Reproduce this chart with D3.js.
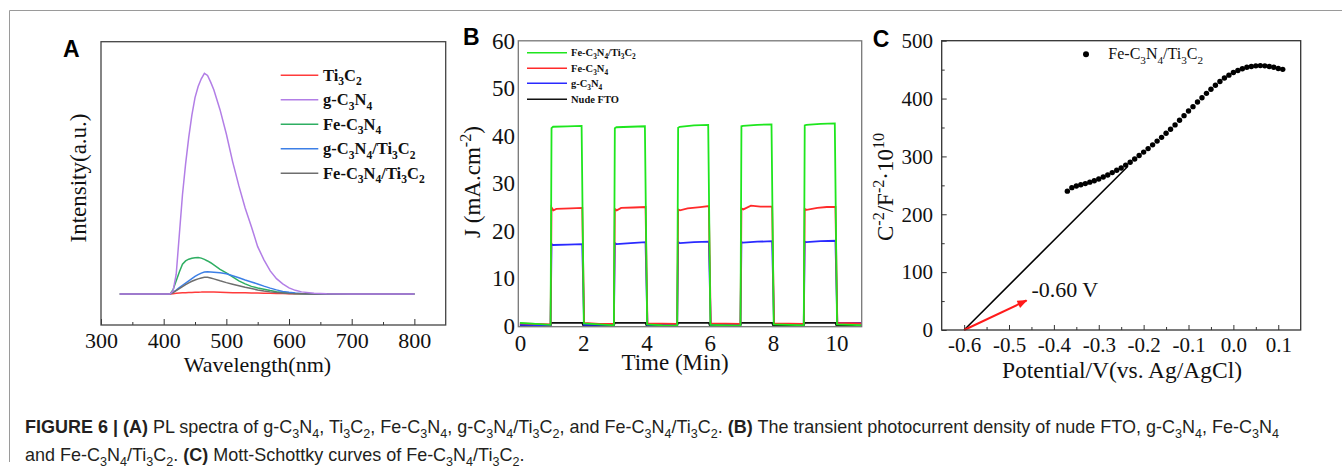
<!DOCTYPE html>
<html>
<head>
<meta charset="utf-8">
<script src="https://cdn.jsdelivr.net/npm/d3@7"></script>
<style>
  body { margin: 0; background: #fff; }
  svg { display: block; }
  text { white-space: pre; }
</style>
</head>
<body>
<svg width="1342" height="469"></svg>
<script>
// ---- Panel A: espectros PL (intensidad relativa, pico de g-C3N4 = 100)
const wavelength = [330, 400, 410, 415, 420, 425, 430, 435, 440, 445, 450, 455, 460, 465, 470, 475, 480, 490, 500, 510, 520, 530, 540, 550, 560, 570, 580, 590, 600, 610, 620, 640, 660, 700, 750, 800];
const plTi3C2   = [0, 0, 0, 0.2, 0.4, 0.5, 0.6, 0.65, 0.7, 0.75, 0.8, 0.85, 0.9, 1.0, 1.0, 0.95, 0.9, 0.8, 0.7, 0.65, 0.6, 0.55, 0.5, 0.45, 0.4, 0.35, 0.3, 0.25, 0.2, 0.15, 0.1, 0.05, 0, 0, 0, 0];
const plGC3N4   = [0, 0, 0, 1.5, 9, 27, 45, 59, 71, 81, 89, 94, 97.5, 100, 99, 96, 92.5, 83.4, 72.5, 60, 49, 39, 30.5, 21.5, 15.5, 10.5, 7, 4.6, 2.8, 1.7, 1.0, 0.4, 0.15, 0, 0, 0];
const plFeC3N4  = [0, 0, 0, 2, 6, 10, 13.5, 15, 15.8, 16.2, 16.5, 16.6, 16.3, 15.7, 15, 14.2, 13.2, 11.2, 9.6, 7.8, 6, 4.6, 3.5, 2.8, 2.2, 1.6, 1.1, 0.7, 0.5, 0.3, 0.2, 0.1, 0, 0, 0, 0];
const plGTi     = [0, 0, 0, 0.8, 1.8, 2.9, 4, 5, 6, 7, 8, 8.8, 9.5, 10, 10.1, 10, 9.9, 9.7, 9.2, 8.3, 7.4, 6.4, 5.5, 4.6, 3.6, 2.7, 1.9, 1.2, 0.8, 0.5, 0.3, 0.1, 0, 0, 0, 0];
const plFeTi    = [0, 0, 0, 0.7, 1.6, 2.5, 3.4, 4.3, 5.1, 5.8, 6.4, 6.9, 7.3, 7.6, 7.6, 7.3, 6.9, 6.0, 5.2, 4.5, 3.8, 3.1, 2.5, 1.9, 1.4, 1.0, 0.7, 0.5, 0.3, 0.2, 0.1, 0, 0, 0, 0, 0];
const plNames   = ['Ti_3C_2', 'g-C_3N_4', 'Fe-C_3N_4', 'g-C_3N_4/Ti_3C_2', 'Fe-C_3N_4/Ti_3C_2'];
const plColors  = ['#ff3b3b', '#b27ee6', '#2eae62', '#3c7fe6', '#6e6e6e'];
const wlTicks   = [300, 400, 500, 600, 700, 800];
const wlMinor   = [350, 450, 550, 650, 750];

// ---- Panel B: fotocorriente transitoria [t (min), J]
const jFeTi = [[0, 0.6], [0.5, 0.4], [0.97, 0.2], [1.0, 41.6], [1.05, 41.9], [1.5, 42.0], [1.95, 42.1], [2.02, 0.5], [2.5, 0.3], [2.97, 0.1],
  [3.0, 41.6], [3.05, 41.8], [3.5, 41.9], [3.95, 42.0], [4.02, 0.3], [4.5, 0.1], [4.97, 0.0],
  [5.0, 41.7], [5.05, 41.9], [5.5, 42.2], [5.95, 42.3], [6.02, 0.2], [6.5, 0.1], [6.97, 0.0],
  [7.0, 42.0], [7.05, 42.1], [7.5, 42.3], [7.95, 42.4], [8.02, 0.3], [8.5, 0.2], [8.97, 0.1],
  [9.0, 42.2], [9.05, 42.3], [9.5, 42.5], [9.95, 42.6], [10.02, 0.3], [10.5, 0.2], [10.8, 0.1]];
const jFe = [[0, 0.5], [0.97, 0.3], [1.0, 24.9], [1.06, 24.3], [1.15, 24.6], [1.6, 24.7], [1.97, 24.8], [2.03, 0.6], [2.5, 0.4], [2.97, 0.4],
  [3.0, 24.6], [3.06, 24.3], [3.2, 24.8], [3.6, 24.9], [3.97, 25.0], [4.03, 0.5], [4.97, 0.4],
  [5.0, 24.5], [5.06, 24.3], [5.3, 24.7], [5.7, 25.0], [5.97, 25.2], [6.03, 0.5], [6.97, 0.4],
  [7.0, 24.7], [7.06, 24.5], [7.3, 25.3], [7.6, 25.1], [7.97, 25.1], [8.03, 0.5], [8.97, 0.4],
  [9.0, 24.6], [9.06, 24.4], [9.4, 24.8], [9.7, 25.0], [9.97, 25.0], [10.03, 0.6], [10.8, 0.5]];
const jG = [[0, 0.2], [0.97, 0.1], [1.0, 17.2], [1.05, 17.0], [1.5, 17.1], [1.97, 17.2], [2.03, 0.2], [2.97, 0.2],
  [3.0, 17.4], [3.05, 17.2], [3.5, 17.4], [3.97, 17.6], [4.03, 0.2], [4.97, 0.2],
  [5.0, 17.6], [5.05, 17.4], [5.5, 17.6], [5.97, 17.7], [6.03, 0.2], [6.97, 0.3],
  [7.0, 17.6], [7.05, 17.5], [7.5, 17.7], [7.97, 17.8], [8.03, 0.4], [8.97, 0.4],
  [9.0, 17.7], [9.05, 17.6], [9.5, 17.8], [9.97, 17.9], [10.03, 0.6], [10.8, 0.6]];
const jFTO = [[0, 0.1], [0.97, 0.0], [1.0, 0.6], [1.97, 0.6], [2.0, 0.1], [2.97, 0.1], [3.0, 0.6], [3.97, 0.6], [4.0, 0.1], [4.97, 0.1],
  [5.0, 0.6], [5.97, 0.6], [6.0, 0.1], [6.97, 0.1], [7.0, 0.6], [7.97, 0.6], [8.0, 0.1], [8.97, 0.1], [9.0, 0.6], [9.97, 0.6], [10.0, 0.1], [10.8, 0.1]];
const jNames  = ['Fe-C_3N_4/Ti_3C_2', 'Fe-C_3N_4', 'g-C_3N_4', 'Nude FTO'];
const jColors = ['#1ee61e', '#ff2a2a', '#2a2aff', '#111111'];
const tTicks  = [0, 2, 4, 6, 8, 10];
const jTicks  = [0, 10, 20, 30, 40, 50, 60];

// ---- Panel C: Mott-Schottky
const potential = [-0.37, -0.36, -0.35, -0.34, -0.33, -0.32, -0.31, -0.30, -0.29, -0.28, -0.27, -0.26, -0.25, -0.24, -0.23, -0.22, -0.21, -0.20, -0.19, -0.18, -0.17, -0.16, -0.15, -0.14, -0.13, -0.12, -0.11, -0.10, -0.09, -0.08, -0.07, -0.06, -0.05, -0.04, -0.03, -0.02, -0.01, 0.00, 0.01, 0.02, 0.03, 0.04, 0.05, 0.06, 0.07, 0.08, 0.09, 0.10, 0.11];
const invC2 = [240, 246, 249, 251, 253, 255.5, 258, 261, 264.5, 268, 272, 276, 280, 285, 290, 295.5, 301.5, 307.5, 313.5, 320, 326.5, 333, 340, 347, 354.5, 362.5, 370.5, 378.5, 386, 394, 401.5, 409, 416, 423, 429.5, 435.5, 440.5, 445, 448.5, 451.5, 454, 455.5, 456.5, 457, 456.5, 455.5, 454, 452, 450.5];
const tangentV = [-0.6, -0.235];
const tangentC = [0, 283];
const arrowV = [-0.6, -0.461];
const arrowC = [0, 51];
const vTicks = [-0.6, -0.5, -0.4, -0.3, -0.2, -0.1, 0.0, 0.1];
const vMinor = [-0.55, -0.45, -0.35, -0.25, -0.15, -0.05, 0.05];
const cTicks = [0, 100, 200, 300, 400, 500];
const cMinor = [50, 150, 250, 350, 450];

const svg = d3.select('svg');
const serif = '"Liberation Serif", "Times New Roman", serif';
const sans = '"Liberation Sans", Arial, sans-serif';

// texto con subíndices (_x), superíndices (^{..}) y negrita (*..*)
function rich(sel, str, size) {
  const parts = [];
  let bold = false, i = 0;
  while (i < str.length) {
    const c = str[i];
    if (c === '*') { bold = !bold; i++; continue; }
    if (c === '_') { parts.push({ t: str[i + 1], s: 'sub', bold }); i += 2; continue; }
    if (c === '^') { const j = str.indexOf('}', i); parts.push({ t: str.slice(i + 2, j), s: 'sup', bold }); i = j + 1; continue; }
    let j = i;
    while (j < str.length && !'*_^'.includes(str[j])) j++;
    parts.push({ t: str.slice(i, j), s: 'n', bold });
    i = j;
  }
  let shift = 0;
  parts.forEach(p => {
    const target = p.s === 'sub' ? size * 0.28 : p.s === 'sup' ? -size * 0.4 : 0;
    sel.append('tspan').text(p.t)
      .attr('dy', target - shift)
      .attr('font-size', p.s === 'n' ? size : size * 0.7)
      .attr('font-weight', p.bold ? 'bold' : null);
    shift = target;
  });
  return sel;
}

function styleAxis(g, size) {
  g.select('.domain').remove();
  g.selectAll('text').attr('font-family', serif).attr('font-size', size).attr('fill', '#111');
  g.selectAll('line').attr('stroke', '#333');
}

// marco exterior de la figura
svg.append('path').attr('d', 'M9.5,462V10.5H1342').attr('fill', 'none').attr('stroke', '#9a9a9a');

// ================= Panel A
const xA = d3.scaleLinear([300, 850], [101, 445.7]);
const yA = d3.scaleLinear([-14, 114.3], [325, 41.7]);

svg.append('g').attr('transform', 'translate(0,325)')
  .call(d3.axisBottom(xA).tickValues(wlTicks).tickSize(-6).tickPadding(7.4))
  .call(g => styleAxis(g, 22));
svg.append('g').attr('transform', 'translate(0,325)')
  .call(d3.axisBottom(xA).tickValues(wlMinor).tickSize(-3).tickFormat(''))
  .call(g => styleAxis(g, 22));

const lineA = d3.line().x((d, i) => xA(wavelength[i])).y(d => yA(d));
const plSeries = [plTi3C2, plGC3N4, plFeC3N4, plGTi, plFeTi];
[0, 2, 3, 4, 1].forEach(k => {
  svg.append('path').datum(plSeries[k]).attr('d', lineA)
    .attr('fill', 'none').attr('stroke', plColors[k]).attr('stroke-width', 1.5);
});

svg.append('rect').attr('x', xA.range()[0]).attr('y', yA.range()[1])
  .attr('width', xA.range()[1] - xA.range()[0]).attr('height', yA.range()[0] - yA.range()[1])
  .attr('fill', 'none').attr('stroke', '#444').attr('stroke-width', 1.3);

plNames.forEach((n, i) => {
  const y = 75.3 + i * 24.5;
  svg.append('line').attr('x1', 280.7).attr('x2', 318.3).attr('y1', y).attr('y2', y)
    .attr('stroke', plColors[i]).attr('stroke-width', 1.5);
  rich(svg.append('text').attr('x', 323).attr('y', y + 5.5)
    .attr('font-family', serif).attr('font-weight', 'bold').attr('fill', '#111'), n, 16.5);
});

svg.append('text').attr('x', 257.5).attr('y', 372).attr('text-anchor', 'middle')
  .attr('font-family', serif).attr('font-size', 22).attr('fill', '#111').text('Wavelength(nm)');
svg.append('text').attr('transform', 'translate(86,178) rotate(-90)').attr('text-anchor', 'middle')
  .attr('font-family', serif).attr('font-size', 23).attr('fill', '#111').text('Intensity(a.u.)');
svg.append('text').attr('x', 63).attr('y', 57).attr('font-family', sans).attr('font-weight', 'bold')
  .attr('font-size', 23).text('A');

// ================= Panel B
const xB = d3.scaleLinear([-0.05, 10.8], [518.3, 861.7]);
const yB = d3.scaleLinear([-0.2, 60], [326.7, 40.8]);

svg.append('g').attr('transform', 'translate(0,326.7)')
  .call(d3.axisBottom(xB).tickValues(tTicks).tickSize(0).tickPadding(7.8))
  .call(g => styleAxis(g, 23));
svg.append('g').attr('transform', 'translate(518.3,0)')
  .call(d3.axisLeft(yB).tickValues(jTicks).tickSize(0).tickPadding(3.3))
  .call(g => styleAxis(g, 23));

const lineB = d3.line().x(d => xB(d[0])).y(d => yB(d[1]));
const jSeries = [jFeTi, jFe, jG, jFTO];
[3, 2, 1, 0].forEach(k => {
  svg.append('path').datum(jSeries[k]).attr('d', lineB)
    .attr('fill', 'none').attr('stroke', jColors[k]).attr('stroke-width', 1.8);
});

svg.append('rect').attr('x', xB.range()[0]).attr('y', yB.range()[1])
  .attr('width', xB.range()[1] - xB.range()[0]).attr('height', yB.range()[0] - yB.range()[1])
  .attr('fill', 'none').attr('stroke', '#777').attr('stroke-width', 1.3);

jNames.forEach((n, i) => {
  const y = [52.7, 68.3, 83.3, 99.3][i];
  svg.append('line').attr('x1', 527).attr('x2', 567).attr('y1', y).attr('y2', y)
    .attr('stroke', jColors[i]).attr('stroke-width', 1.5);
  rich(svg.append('text').attr('x', 571).attr('y', y + 3.6)
    .attr('font-family', serif).attr('font-weight', 'bold').attr('fill', '#111'), n, 10.5);
});

svg.append('text').attr('x', 675).attr('y', 369.5).attr('text-anchor', 'middle')
  .attr('font-family', serif).attr('font-size', 23).attr('fill', '#111').text('Time (Min)');
rich(svg.append('text').attr('transform', 'translate(480,182) rotate(-90)').attr('text-anchor', 'middle')
  .attr('font-family', serif).attr('fill', '#111'), 'J (mA.cm^{-2})', 23);
svg.append('text').attr('x', 463).attr('y', 45).attr('font-family', sans).attr('font-weight', 'bold')
  .attr('font-size', 23).text('B');

// ================= Panel C
const xC = d3.scaleLinear([-0.65, 0.15], [941.7, 1300.7]);
const yC = d3.scaleLinear([0, 500], [330, 40.7]);

svg.append('g').attr('transform', 'translate(0,330)')
  .call(d3.axisBottom(xC).tickValues(vTicks).tickSize(-5).tickPadding(7).tickFormat(d3.format('.1f')))
  .call(g => styleAxis(g, 21))
  .call(g => g.selectAll('text').text(d => d3.format('.1f')(d).replace('−', '-')));
svg.append('g').attr('transform', 'translate(0,330)')
  .call(d3.axisBottom(xC).tickValues(vMinor).tickSize(-3).tickFormat(''))
  .call(g => styleAxis(g, 21));
svg.append('g').attr('transform', 'translate(941.7,0)')
  .call(d3.axisLeft(yC).tickValues(cTicks).tickSize(-5).tickPadding(8.7))
  .call(g => styleAxis(g, 21));
svg.append('g').attr('transform', 'translate(941.7,0)')
  .call(d3.axisLeft(yC).tickValues(cMinor).tickSize(-3).tickFormat(''))
  .call(g => styleAxis(g, 21));

svg.append('defs').append('marker').attr('id', 'head').attr('markerUnits', 'userSpaceOnUse')
  .attr('viewBox', '0 0 10 8').attr('refX', 9).attr('refY', 4)
  .attr('markerWidth', 11).attr('markerHeight', 8).attr('orient', 'auto')
  .append('path').attr('d', 'M0,0L10,4L0,8Z').attr('fill', '#ff1a1a');

const lineC = d3.line().x(d => xC(d[0])).y(d => yC(d[1]));
svg.append('path').datum(d3.zip(tangentV, tangentC)).attr('d', lineC)
  .attr('stroke', '#000').attr('stroke-width', 1.6).attr('fill', 'none');
svg.append('path').datum(d3.zip(arrowV, arrowC)).attr('d', lineC)
  .attr('stroke', '#ff1a1a').attr('stroke-width', 2).attr('fill', 'none').attr('marker-end', 'url(#head)');

svg.append('g').selectAll('circle').data(d3.zip(potential, invC2)).join('circle')
  .attr('cx', d => xC(d[0])).attr('cy', d => yC(d[1])).attr('r', 2.7).attr('fill', '#000');

svg.append('rect').attr('x', xC.range()[0]).attr('y', yC.range()[1])
  .attr('width', xC.range()[1] - xC.range()[0]).attr('height', yC.range()[0] - yC.range()[1])
  .attr('fill', 'none').attr('stroke', '#333').attr('stroke-width', 1.3);

svg.append('text').attr('x', xC(-0.45)).attr('y', yC(57.5))
  .attr('font-family', serif).attr('font-size', 22).attr('fill', '#111').text('-0.60 V');

svg.append('circle').attr('cx', 1086).attr('cy', 54.3).attr('r', 3).attr('fill', '#000');
rich(svg.append('text').attr('x', 1108.3).attr('y', 59.3)
  .attr('font-family', serif).attr('fill', '#111'), 'Fe-C_3N_4/Ti_3C_2', 16);

svg.append('text').attr('x', 1122).attr('y', 377.5).attr('text-anchor', 'middle')
  .attr('font-family', serif).attr('font-size', 23.5).attr('fill', '#111').text('Potential/V(vs. Ag/AgCl)');
rich(svg.append('text').attr('transform', 'translate(893,187) rotate(-90)').attr('text-anchor', 'middle')
  .attr('font-family', serif).attr('fill', '#111'), 'C^{-2}/F^{-2}·10^{10}', 23);
svg.append('text').attr('x', 872.7).attr('y', 46.7).attr('font-family', sans).attr('font-weight', 'bold')
  .attr('font-size', 23).text('C');

// ================= Pie de figura
const cap1 = '*FIGURE 6 | (A)* PL spectra of g-C_3N_4, Ti_3C_2, Fe-C_3N_4, g-C_3N_4/Ti_3C_2, and Fe-C_3N_4/Ti_3C_2. *(B)* The transient photocurrent density of nude FTO, g-C_3N_4, Fe-C_3N_4';
const cap2 = 'and Fe-C_3N_4/Ti_3C_2. *(C)* Mott-Schottky curves of Fe-C_3N_4/Ti_3C_2.';
const capLine = (str, y, size) => rich(svg.append('text').attr('x', 25).attr('y', y)
  .attr('font-family', sans).attr('fill', '#231f20'), str, size);
let probe = capLine(cap1, 433, 16);
const capSize = 16 * 1255 / probe.node().getComputedTextLength();
probe.remove();
capLine(cap1, 433, capSize);
capLine(cap2, 461, capSize);
</script>
</body>
</html>
